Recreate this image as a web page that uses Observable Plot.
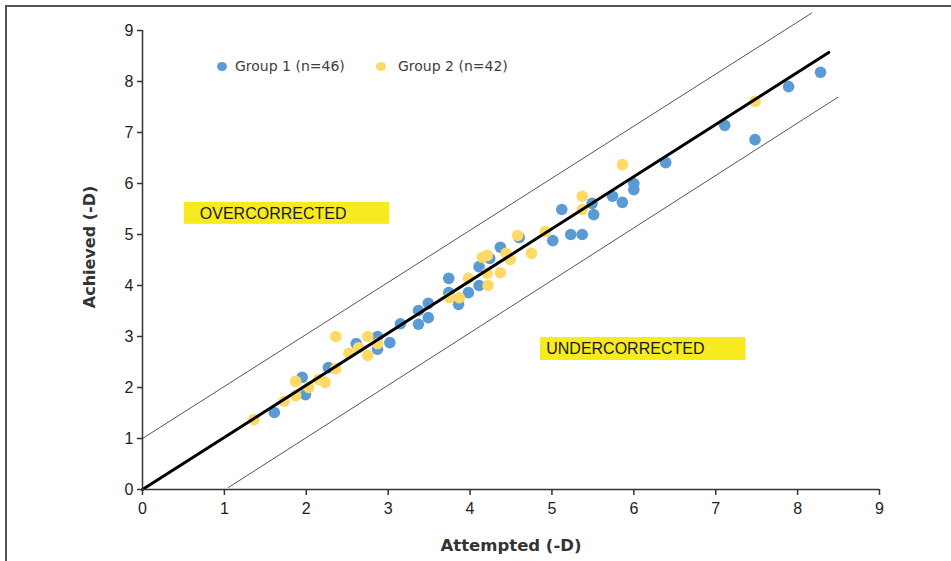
<!DOCTYPE html>
<html>
<head>
<meta charset="utf-8">
<script src="https://cdn.jsdelivr.net/npm/d3@7"></script>
<script src="https://cdn.jsdelivr.net/npm/@observablehq/plot@0.6"></script>
<style>
  html, body { margin: 0; padding: 0; background: #fff; }
  #wrap { position: relative; width: 951px; height: 561px; overflow: hidden; }
  #frame { position: absolute; left: 5px; top: 5px; right: -10px; bottom: -10px;
           border-top: 2px solid #555; border-left: 2px solid #555; pointer-events: none; }
  #legend { position: absolute; left: 0; top: 0; font-family: "DejaVu Sans", Verdana, sans-serif;
            font-size: 14px; color: #404040; }
  .li { position: absolute; white-space: nowrap; }
  .sw { position: absolute; width: 10px; height: 9px; border-radius: 50%; }
</style>
</head>
<body>
<div id="wrap">
  <div id="chart"></div>
  <div id="frame"></div>
  <div id="legend"></div>
</div>
<script>
// ---- data ----
const group1X = [1.61,1.95,1.99,2.27,2.61,2.87,2.87,3.02,3.15,3.37,3.49,3.49,3.37,3.74,3.74,3.86,3.98,4.11,4.11,4.24,4.37,4.60,5.01,5.12,5.23,5.37,5.49,5.51,5.74,5.86,6.00,6.00,6.39,7.11,7.48,7.89,8.28];
const group1Y = [1.51,2.20,1.86,2.39,2.86,3.00,2.75,2.88,3.25,3.51,3.65,3.37,3.24,4.14,3.86,3.63,3.86,4.37,4.00,4.53,4.75,4.94,4.88,5.49,5.00,5.00,5.61,5.39,5.75,5.63,6.00,5.88,6.41,7.14,6.86,7.90,8.18];
const group2X = [1.36,1.73,1.87,1.87,2.03,2.15,2.23,2.36,2.36,2.52,2.64,2.75,2.75,2.87,3.75,3.87,3.98,4.15,4.21,4.21,4.22,4.37,4.44,4.49,4.75,4.58,4.92,5.37,5.37,5.86,7.48];
const group2Y = [1.37,1.73,2.12,1.84,2.00,2.16,2.10,3.00,2.37,2.67,2.78,3.00,2.63,2.86,3.76,3.76,4.14,4.55,4.59,4.24,4.00,4.25,4.63,4.51,4.63,4.98,5.06,5.75,5.49,6.37,7.61];

const fitX = [0, 8.38],  fitY = [0, 8.57];
const upperX = [0, 8.17], upperY = [1.0, 9.34];
const lowerX = [1.05, 8.49], lowerY = [0.04, 7.69];

const zoneLabels = ["OVERCORRECTED", "UNDERCORRECTED"];
const zoneX1 = [0.51, 4.86], zoneX2 = [3.02, 7.37];
const zoneY1 = [5.20, 2.53], zoneY2 = [5.63, 2.98];
const zoneTextX = [0.70, 4.93], zoneTextY = [5.41, 2.76];

const seriesNames = ["Group 1 (n=46)", "Group 2 (n=42)"];
const seriesColors = ["#5B9BD5", "#FFD966"];
const tickValues = [0,1,2,3,4,5,6,7,8,9];
const xLabel = "Attempted (-D)";
const yLabel = "Achieved (-D)";

// ---- build tables ----
const g1 = group1X.map((x, i) => ({x, y: group1Y[i]}));
const g2 = group2X.map((x, i) => ({x, y: group2Y[i]}));
const toLine = (xs, ys) => xs.map((x, i) => ({x, y: ys[i]}));
const zones = zoneLabels.map((label, i) => ({label, x1: zoneX1[i], x2: zoneX2[i], y1: zoneY1[i], y2: zoneY2[i], tx: zoneTextX[i], ty: zoneTextY[i]}));

const chart = Plot.plot({
  width: 951, height: 561,
  marginLeft: 142, marginRight: 72, marginTop: 30, marginBottom: 72,
  x: {domain: [0, 9]},
  y: {domain: [0, 9]},
  style: {fontFamily: "'Liberation Sans', Arial, sans-serif", fontSize: "15px", color: "#222", background: "transparent"},
  marks: [
    Plot.rect(zones, {x1: "x1", x2: "x2", y1: "y1", y2: "y2", fill: "#F7EA1F"}),
    Plot.text(zones, {x: "tx", y: "ty", text: "label", textAnchor: "start", fontFamily: "'Liberation Sans', Arial, sans-serif", fontSize: 16, fill: "#1a1a1a", letterSpacing: 0.6}),
    Plot.dot(g1, {x: "x", y: "y", r: 5.8, fill: seriesColors[0], stroke: "none"}),
    Plot.dot(g2, {x: "x", y: "y", r: 5.8, fill: seriesColors[1], stroke: "none"}),
    Plot.line(toLine(upperX, upperY), {x: "x", y: "y", stroke: "#555", strokeWidth: 1}),
    Plot.line(toLine(lowerX, lowerY), {x: "x", y: "y", stroke: "#555", strokeWidth: 1}),
    Plot.line(toLine(fitX, fitY), {x: "x", y: "y", stroke: "#000", strokeWidth: 3}),
    Plot.ruleX([0], {stroke: "#333", strokeWidth: 1.5}),
    Plot.ruleY([0], {stroke: "#333", strokeWidth: 1.5}),
    Plot.axisX({ticks: tickValues, tickSize: 6, tickPadding: 7, label: null, stroke: "#333", strokeWidth: 1.5, fontSize: 16, fill: "#222"}),
    Plot.axisY({ticks: tickValues, tickSize: 5, tickPadding: 4, label: null, stroke: "#333", strokeWidth: 1.5, fontSize: 16, fill: "#222"}),
    Plot.text([xLabel], {frameAnchor: "bottom", dy: 56, lineAnchor: "middle", text: d => d, fontWeight: "bold", fontSize: 16.5, fontFamily: "'DejaVu Sans', Verdana, sans-serif", fill: "#333"}),
    Plot.text([yLabel], {frameAnchor: "left", rotate: -90, dx: -53, dy: -13, textAnchor: "middle", lineAnchor: "middle", text: d => d, fontWeight: "bold", fontSize: 16, fontFamily: "'DejaVu Sans', Verdana, sans-serif", fill: "#333"})
  ]
});
document.getElementById("chart").appendChild(chart);

// legend overlay
const legend = document.getElementById("legend");
const legendPos = [[217, 235], [376, 398]];
seriesNames.forEach((name, i) => {
  const sw = document.createElement("div");
  sw.className = "sw";
  sw.style.background = seriesColors[i];
  sw.style.left = legendPos[i][0] + "px";
  sw.style.top = "62px";
  legend.appendChild(sw);
  const t = document.createElement("div");
  t.className = "li";
  t.textContent = name;
  t.style.left = legendPos[i][1] + "px";
  t.style.top = "58px";
  legend.appendChild(t);
});
</script>
</body>
</html>
